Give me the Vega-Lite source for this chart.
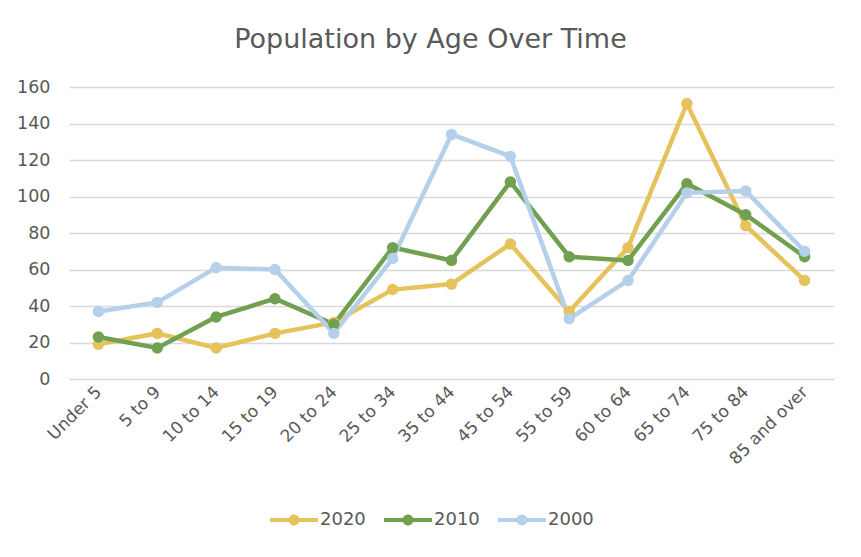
{
  "$schema": "https://vega.github.io/schema/vega-lite/v6.json",
  "autosize": {"type": "none"},
  "width": 765,
  "height": 292,
  "padding": {"left": 69, "top": 87, "right": 27, "bottom": 178},
  "background": "white",
  "title": {
    "text": "Population by Age Over Time",
    "font": "DejaVu Sans",
    "fontSize": 27,
    "fontWeight": 400,
    "color": "#595959",
    "anchor": "middle",
    "dx": -21,
    "offset": 24
  },
  "data": {
    "values": [
      {"age": "Under 5", "year": "2020", "pop": 19},
      {"age": "5 to 9", "year": "2020", "pop": 25},
      {"age": "10 to 14", "year": "2020", "pop": 17},
      {"age": "15 to 19", "year": "2020", "pop": 25},
      {"age": "20 to 24", "year": "2020", "pop": 31},
      {"age": "25 to 34", "year": "2020", "pop": 49},
      {"age": "35 to 44", "year": "2020", "pop": 52},
      {"age": "45 to 54", "year": "2020", "pop": 74},
      {"age": "55 to 59", "year": "2020", "pop": 37},
      {"age": "60 to 64", "year": "2020", "pop": 72},
      {"age": "65 to 74", "year": "2020", "pop": 151},
      {"age": "75 to 84", "year": "2020", "pop": 84},
      {"age": "85  and over", "year": "2020", "pop": 54},
      {"age": "Under 5", "year": "2010", "pop": 23},
      {"age": "5 to 9", "year": "2010", "pop": 17},
      {"age": "10 to 14", "year": "2010", "pop": 34},
      {"age": "15 to 19", "year": "2010", "pop": 44},
      {"age": "20 to 24", "year": "2010", "pop": 30},
      {"age": "25 to 34", "year": "2010", "pop": 72},
      {"age": "35 to 44", "year": "2010", "pop": 65},
      {"age": "45 to 54", "year": "2010", "pop": 108},
      {"age": "55 to 59", "year": "2010", "pop": 67},
      {"age": "60 to 64", "year": "2010", "pop": 65},
      {"age": "65 to 74", "year": "2010", "pop": 107},
      {"age": "75 to 84", "year": "2010", "pop": 90},
      {"age": "85  and over", "year": "2010", "pop": 67},
      {"age": "Under 5", "year": "2000", "pop": 37},
      {"age": "5 to 9", "year": "2000", "pop": 42},
      {"age": "10 to 14", "year": "2000", "pop": 61},
      {"age": "15 to 19", "year": "2000", "pop": 60},
      {"age": "20 to 24", "year": "2000", "pop": 25},
      {"age": "25 to 34", "year": "2000", "pop": 66},
      {"age": "35 to 44", "year": "2000", "pop": 134},
      {"age": "45 to 54", "year": "2000", "pop": 122},
      {"age": "55 to 59", "year": "2000", "pop": 33},
      {"age": "60 to 64", "year": "2000", "pop": 54},
      {"age": "65 to 74", "year": "2000", "pop": 102},
      {"age": "75 to 84", "year": "2000", "pop": 103},
      {"age": "85  and over", "year": "2000", "pop": 70}
    ]
  },
  "mark": {"type": "line", "strokeWidth": 4.5, "point": {"size": 130, "filled": true, "opacity": 1}},
  "encoding": {
    "x": {
      "field": "age",
      "type": "ordinal",
      "sort": null,
      "scale": {"type": "point", "padding": 0.5},
      "axis": {
        "title": null,
        "labelAngle": -45,
        "labelAlign": "right",
        "labelBaseline": "middle",
        "labelFont": "DejaVu Sans",
        "labelFontSize": 17,
        "labelColor": "#595959",
        "labelPadding": 10,
        "ticks": false,
        "domain": false,
        "grid": false
      }
    },
    "y": {
      "field": "pop",
      "type": "quantitative",
      "scale": {"domain": [0, 160]},
      "axis": {
        "title": null,
        "values": [0, 20, 40, 60, 80, 100, 120, 140, 160],
        "labelFont": "DejaVu Sans",
        "labelFontSize": 17.5,
        "labelColor": "#595959",
        "labelPadding": 19,
        "ticks": false,
        "domain": false,
        "gridColor": "#d9d9d9",
        "gridWidth": 1.5
      }
    },
    "color": {
      "field": "year",
      "type": "nominal",
      "sort": ["2020", "2010", "2000"],
      "scale": {"domain": ["2020", "2010", "2000"], "range": ["#E6C25C", "#70A050", "#B4D0EA"]},
      "legend": {
        "title": null,
        "orient": "none",
        "direction": "horizontal",
        "legendX": 201,
        "legendY": 409,
        "symbolType": "M-1,-0.085 L1,-0.085 L1,0.085 L-1,0.085 Z M0.23,0 A0.23,0.23 0 1,1 -0.23,0 A0.23,0.23 0 1,1 0.23,0 Z",
        "symbolSize": 2304,
        "symbolStrokeWidth": 0,
        "labelFont": "DejaVu Sans",
        "labelFontSize": 18,
        "labelColor": "#595959",
        "labelOffset": 2,
        "columnPadding": 18,
        "encode": {
          "symbols": {"update": {"fill": {"scale": "color", "field": "value"}, "fillOpacity": {"value": 1}, "strokeWidth": {"value": 0}}}
        }
      }
    }
  },
  "config": {"view": {"stroke": null}}
}
